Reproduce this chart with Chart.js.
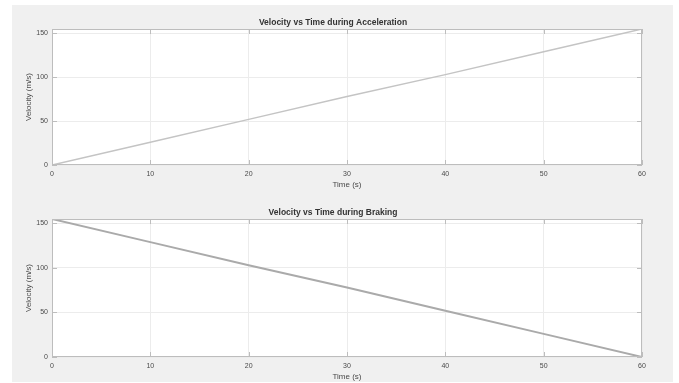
<!DOCTYPE html>
<html>
<head>
<meta charset="utf-8">
<script src="https://cdn.jsdelivr.net/npm/chart.js@4/dist/chart.umd.min.js"></script>
<style>
  body { margin: 0; background: #fff; }
  #fig { position: absolute; left: 12px; top: 5px; width: 661px; height: 377px; background: #f0f0f0; }
  .plot { position: absolute; left: 0; }
</style>
</head>
<body>
<div id="fig"></div>
<canvas id="accel" class="plot" style="top:0px"></canvas>
<canvas id="brake" class="plot" style="top:190px"></canvas>
<script>
// values
const timeS = [0, 10, 20, 30, 40, 50, 60];
const accelVelocity = [0, 26, 52, 78, 103, 129, 155];
const brakeVelocity = [155, 129, 103, 78, 52, 26, 0];
const xTicks = [0, 10, 20, 30, 40, 50, 60];
const yTicks = [0, 50, 100, 150];

// white axes background, box on all sides and inward tick marks (matlab look)
const axesBox = {
    id: 'axesBox',
    beforeDraw(chart) {
        const { ctx, chartArea: a } = chart;
        ctx.save();
        ctx.fillStyle = '#ffffff';
        ctx.fillRect(a.left, a.top, a.right - a.left, a.bottom - a.top);
        ctx.restore();
    },
    afterDraw(chart) {
        const { ctx, chartArea: a, scales } = chart;
        ctx.save();
        ctx.strokeStyle = '#bdbdbd';
        ctx.lineWidth = 1;
        ctx.strokeRect(a.left + 0.5, a.top + 0.5, a.right - a.left - 1, a.bottom - a.top - 1);
        ctx.beginPath();
        xTicks.forEach(v => {
            const x = Math.round(scales.x.getPixelForValue(v)) + 0.5;
            ctx.moveTo(x, a.bottom); ctx.lineTo(x, a.bottom - 5);
            ctx.moveTo(x, a.top); ctx.lineTo(x, a.top + 5);
        });
        yTicks.forEach(v => {
            const y = Math.round(scales.y.getPixelForValue(v)) + 0.5;
            ctx.moveTo(a.left, y); ctx.lineTo(a.left + 5, y);
            ctx.moveTo(a.right, y); ctx.lineTo(a.right - 5, y);
        });
        ctx.stroke();
        ctx.restore();
    }
};

function makeChart(id, height, title, values, lineColor, lineWidth) {
    const canvas = document.getElementById(id);
    canvas.width = 679;
    canvas.height = height;
    canvas.style.width = '679px';
    canvas.style.height = height + 'px';
    return new Chart(canvas, {
        type: 'line',
        data: {
            labels: timeS,
            datasets: [{
                data: timeS.map((t, i) => ({ x: t, y: values[i] })),
                borderColor: lineColor,
                borderWidth: lineWidth,
                pointRadius: 0,
                tension: 0,
                fill: false
            }]
        },
        options: {
            responsive: false,
            animation: false,
            devicePixelRatio: 1,
            layout: { padding: { left: 24, right: 37, top: 0, bottom: 0 } },
            plugins: {
                legend: { display: false },
                tooltip: { enabled: false },
                title: {
                    display: true,
                    text: title,
                    color: '#333333',
                    font: { family: 'Liberation Sans', size: 8.5, weight: 'bold' },
                    padding: { top: 17.9, bottom: 0.9 }
                }
            },
            scales: {
                x: {
                    type: 'linear',
                    min: 0,
                    max: 60,
                    afterBuildTicks: s => { s.ticks = xTicks.map(v => ({ value: v })); },
                    afterFit: s => { s.height = 25; },
                    grid: { color: '#ececec', drawTicks: false },
                    border: { display: false },
                    ticks: { color: '#4a4a4a', padding: 5, maxRotation: 0, font: { family: 'Liberation Sans', size: 7 } },
                    title: {
                        display: true,
                        text: 'Time (s)',
                        color: '#4a4a4a',
                        padding: { top: 0.8, bottom: 0 },
                        font: { family: 'Liberation Sans', size: 8 }
                    }
                },
                y: {
                    min: 0,
                    max: 155,
                    afterBuildTicks: s => { s.ticks = yTicks.map(v => ({ value: v })); },
                    afterFit: s => { s.width = 28; },
                    grid: { color: '#ececec', drawTicks: false },
                    border: { display: false },
                    ticks: { color: '#4a4a4a', padding: 4, font: { family: 'Liberation Sans', size: 7 } },
                    title: {
                        display: true,
                        text: 'Velocity (m/s)',
                        color: '#4a4a4a',
                        padding: 0,
                        font: { family: 'Liberation Sans', size: 8 }
                    }
                }
            }
        },
        plugins: [axesBox]
    });
}

makeChart('accel', 190, 'Velocity vs Time during Acceleration', accelVelocity, '#c4c4c4', 1.5);
makeChart('brake', 192, 'Velocity vs Time during Braking', brakeVelocity, '#aaaaaa', 2);
</script>
</body>
</html>
